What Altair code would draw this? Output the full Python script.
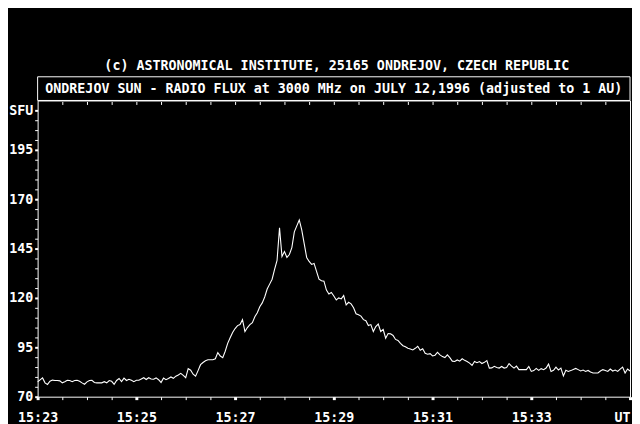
import altair as alt
import pandas as pd

# ---- data (solar radio flux, SFU), one sample every 3 s from 15:23:00 UT ----
start_minute = 23          # minutes after 15:00 UT
step_minutes = 0.05        # 3 seconds

flux_1523_1525 = [
    77.5, 78.5, 79.5, 77.0, 76.2, 77.8, 78.4, 78.2, 78.2, 78.0,
    77.0, 77.6, 78.3, 78.2, 77.6, 78.2, 78.3, 77.8, 77.0, 76.3,
    77.5, 78.2, 78.3, 77.2, 77.0, 77.0, 77.0, 77.6, 77.0, 78.2,
    77.8, 76.3, 78.2, 79.2, 77.6, 79.4, 78.2, 78.8, 78.3, 77.6,
    78.3,
]
flux_1525_1527 = [
    78.3, 79.0, 79.6, 78.7, 79.6, 79.0, 78.8, 79.5, 78.6, 77.2,
    79.4, 78.6, 79.2, 80.0, 79.3, 80.4, 81.0, 81.8, 80.8, 79.6,
    84.2, 83.4, 81.4, 80.4, 83.2, 86.2, 87.3, 88.2, 88.7, 88.7,
    88.7, 89.2, 92.3, 90.6, 89.8, 93.0, 97.0, 99.8, 102.5, 104.5,
]
flux_1527_1529 = [
    106.0, 106.5, 109.0, 103.0, 105.0, 106.5, 107.5, 110.5, 112.5, 115.5,
    117.5, 120.5, 124.5, 127.0, 129.5, 134.5, 139.0, 155.5, 141.0, 143.5,
    140.5, 142.0, 145.5, 153.5, 156.5, 159.5, 154.5, 147.5, 140.5, 138.5,
    137.0, 137.5, 133.5, 129.5, 128.7, 128.5, 124.0, 122.0, 122.8, 121.0,
]
flux_1529_1531 = [
    119.0, 120.0, 119.5, 121.2, 116.5, 117.8, 117.0, 115.0, 112.0, 111.5,
    110.8, 109.0, 108.5, 106.0, 106.5, 103.0, 105.5, 106.8, 103.0, 104.0,
    99.6, 102.0, 101.8, 101.0, 99.0, 98.5, 97.0, 95.8, 95.3, 94.5,
    94.2, 93.7, 94.5, 95.5, 93.5, 94.3, 92.0, 91.5, 91.8, 90.6,
]
flux_1531_1533 = [
    91.0, 92.5, 91.2, 90.3, 89.8, 91.2, 89.8, 88.0, 87.8, 88.6,
    88.0, 89.2, 88.4, 87.8, 87.0, 85.8, 87.8, 87.2, 87.8, 86.8,
    87.4, 88.3, 84.5, 84.6, 85.4, 84.8, 84.5, 85.3, 84.5, 84.8,
    86.8, 85.5, 84.5, 85.5, 83.7, 83.7, 83.7, 83.7, 85.3, 82.8,
]
flux_1533_1535 = [
    83.2, 84.3, 83.3, 84.2, 83.7, 84.5, 86.5, 82.8, 83.4, 85.0,
    83.5, 84.5, 80.5, 83.4, 82.8, 83.2, 83.8, 84.3, 83.7, 83.0,
    83.5, 82.8, 83.3, 82.5, 82.0, 82.0, 82.0, 83.0, 83.7, 83.3,
    82.8, 84.0, 83.0, 83.5, 82.8, 84.0, 85.0, 82.0, 84.0, 83.0,
]

x_ticks_bottom = [23, 23.5, 24, 24.5, 25, 25.5, 26, 26.5, 27, 27.5, 28, 28.5,
                  29, 29.5, 30, 30.5, 31, 31.5, 32, 32.5, 33, 33.5, 34, 34.5, 35]
x_ticks_top = [23.5, 24, 24.5, 25, 25.5, 26, 26.5, 27, 27.5, 28, 28.5, 29,
               29.5, 30, 30.5, 31, 31.5, 32, 32.5, 33, 33.5, 34, 34.5]
y_ticks = [70, 75, 80, 85, 90, 95, 100, 105, 110, 115, 120, 125, 130, 135, 140,
           145, 150, 155, 160, 165, 170, 175, 180, 185, 190, 195, 200, 205, 210, 215]

copyright_line = "(c) ASTRONOMICAL INSTITUTE, 25165 ONDREJOV, CZECH REPUBLIC"
header_line = "ONDREJOV SUN - RADIO FLUX at 3000 MHz on JULY 12,1996 (adjusted to 1 AU)"

flux = (flux_1523_1525 + flux_1525_1527 + flux_1527_1529
        + flux_1529_1531 + flux_1531_1533 + flux_1533_1535)
minutes = [round(start_minute + i * step_minutes, 2) for i in range(len(flux))]
df = pd.DataFrame({"minute": minutes, "sfu": flux})
hdr = pd.DataFrame({"copyright": [copyright_line], "header": [header_line]})

FONT = "DejaVu Sans Mono"
FS = 13.5
W, H = 600, 300

x_scale = alt.Scale(domain=[23, 35], nice=False, zero=False)
y_scale = alt.Scale(domain=[70, 220], nice=False, zero=False)

bottom_axis = alt.Axis(
    orient="bottom", values=x_ticks_bottom, domain=False, grid=False, title=None,
    tickColor="white", tickSize=3,
    tickWidth={"condition": {"test": "datum.value % 2 == 1", "value": 3}, "value": 1},
    labelExpr="datum.value % 2 == 1 ? (datum.value == 35 ? 'UT' : '15:' + datum.value) : ''",
    labelAlign={"condition": {"test": "datum.value == 35", "value": "right"}, "value": "center"},
    labelFlush=False, labelOverlap=False, labelBound=False,
    labelColor="white", labelFont=FONT, labelFontSize=FS, labelFontWeight="bold",
    labelPadding=11,
)
top_axis = alt.Axis(
    orient="top", values=x_ticks_top, domain=False, grid=False, title=None,
    labels=False, tickColor="white", tickSize=3, tickWidth=1, offset=-4,
)
left_axis = alt.Axis(
    orient="left", values=y_ticks, domain=False, grid=False, title=None,
    tickColor="white", tickSize=3,
    tickWidth={"condition": {"test": "datum.value == 215 || (datum.value - 70) % 25 == 0",
                             "value": 2}, "value": 1},
    labelExpr="datum.value == 215 ? 'SFU' : ((datum.value - 70) % 25 == 0 ? datum.label : '')",
    labelOverlap=False, labelFlush=False,
    labelColor="white", labelFont=FONT, labelFontSize=FS, labelFontWeight="bold",
    labelPadding=2,
)

line = alt.Chart(df).mark_line(color="white", strokeWidth=1.1).encode(
    x=alt.X("minute:Q", scale=x_scale, axis=bottom_axis),
    y=alt.Y("sfu:Q", scale=y_scale, axis=left_axis),
)
top_ticks = alt.Chart(df).mark_point(opacity=0).encode(
    x=alt.X("minute:Q", scale=x_scale, axis=top_axis),
)
box = alt.Chart(hdr).mark_rect(fillOpacity=0, stroke="white", strokeWidth=1).encode(
    x=alt.value(0), x2=alt.value(W), y=alt.value(-24), y2=alt.value(0),
)
header_text = alt.Chart(hdr).mark_text(
    color="white", font=FONT, fontSize=FS, fontWeight="bold",
    align="center", baseline="alphabetic",
).encode(x=alt.value(300), y=alt.value(-7.5), text="header:N")
copyright_text = alt.Chart(hdr).mark_text(
    color="white", font=FONT, fontSize=FS, fontWeight="bold",
    align="center", baseline="alphabetic",
).encode(x=alt.value(303), y=alt.value(-31), text="copyright:N")

chart = alt.layer(line, top_ticks, box, header_text, copyright_text).resolve_axis(
    x="independent"
).properties(
    width=W, height=H,
    autosize=alt.AutoSizeParams(type="none"),
    padding={"left": 30, "top": 91, "right": 2, "bottom": 25},
    background="black",
).configure_view(stroke="white", strokeWidth=1)

chart.save("out.html", embed_options={"renderer": "svg", "actions": False})
